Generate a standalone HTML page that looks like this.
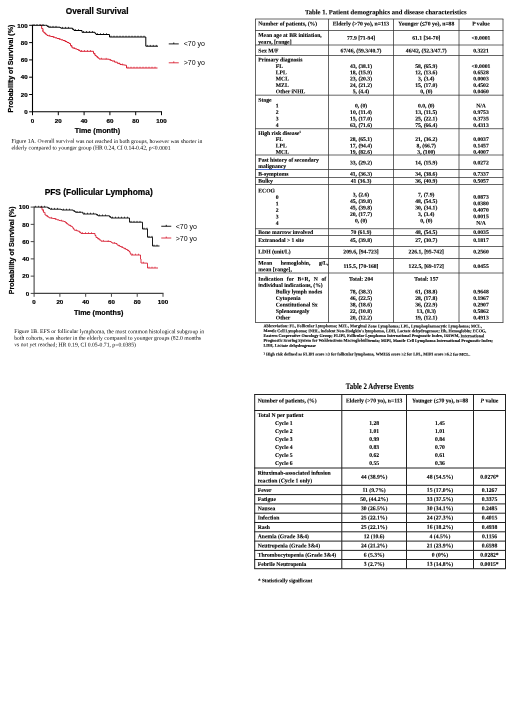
<!DOCTYPE html>
<html lang="en"><head><meta charset="utf-8"><title>Figure and tables</title>
<style>
html,body{margin:0;padding:0;background:#fff;}
body{width:520px;height:703px;position:relative;overflow:hidden;font-family:"Liberation Serif",serif;color:#000;}
.a{position:absolute;white-space:nowrap;}
.sb{font-family:"Liberation Serif",serif;font-weight:bold;-webkit-text-stroke:0.1px #000;}
.sr{font-family:"Liberation Serif",serif;font-weight:normal;}
.c{text-align:center;}
.ln{position:absolute;background:#222;}
svg{position:absolute;left:0;top:0;}
svg text{font-family:"Liberation Sans",sans-serif;}
svg text[font-weight=bold]{stroke:#000;stroke-width:0.2px;}
</style></head>
<body>
<svg width="250" height="360" viewBox="0 0 250 360">
<path d="M32.50,24.80 V112.30 M32.00,111.80 H162.00" stroke="#000" stroke-width="1.1" fill="none"/>
<path d="M29.10,25.30 H32.50 M32.50,111.80 V115.20 M29.10,42.60 H32.50 M58.30,111.80 V115.20 M29.10,59.90 H32.50 M84.10,111.80 V115.20 M29.10,77.20 H32.50 M109.90,111.80 V115.20 M29.10,94.50 H32.50 M135.70,111.80 V115.20 M29.10,111.80 H32.50 M161.50,111.80 V115.20" stroke="#000" stroke-width="0.99" fill="none"/>
<text x="27.60" y="27.53" font-size="6.2" font-weight="bold" text-anchor="end">100</text>
<text x="27.60" y="44.83" font-size="6.2" font-weight="bold" text-anchor="end">80</text>
<text x="27.60" y="62.13" font-size="6.2" font-weight="bold" text-anchor="end">60</text>
<text x="27.60" y="79.43" font-size="6.2" font-weight="bold" text-anchor="end">40</text>
<text x="27.60" y="96.73" font-size="6.2" font-weight="bold" text-anchor="end">20</text>
<text x="27.60" y="114.03" font-size="6.2" font-weight="bold" text-anchor="end">0</text>
<text x="32.50" y="122.83" font-size="6.2" font-weight="bold" text-anchor="middle">0</text>
<text x="58.30" y="122.83" font-size="6.2" font-weight="bold" text-anchor="middle">20</text>
<text x="84.10" y="122.83" font-size="6.2" font-weight="bold" text-anchor="middle">40</text>
<text x="109.90" y="122.83" font-size="6.2" font-weight="bold" text-anchor="middle">60</text>
<text x="135.70" y="122.83" font-size="6.2" font-weight="bold" text-anchor="middle">80</text>
<text x="161.50" y="122.83" font-size="6.2" font-weight="bold" text-anchor="middle">100</text>
<text x="97.10" y="14.29" font-size="8.3" font-weight="bold" text-anchor="middle">Overall Survival</text>
<text x="97.40" y="133.49" font-size="7.2" font-weight="bold" text-anchor="middle">Time (month)</text>
<text transform="translate(12.56,68.55) rotate(-90)" font-size="7.1" font-weight="bold" text-anchor="middle">Probability of Survival (%)</text>
<path d="M40.00,25.30 L40.30,25.30 L41.65,25.30 L41.65,28.65 L43.00,28.65 L43.00,32.00 L44.33,32.00 L44.33,33.17 L45.67,33.17 L45.67,34.33 L47.00,34.33 L47.00,35.50 L48.33,35.50 L48.33,35.83 L49.67,35.83 L49.67,36.17 L51.00,36.17 L51.00,36.50 L53.00,36.50 L53.00,37.17 L55.00,37.17 L55.00,37.83 L57.00,37.83 L57.00,38.50 L59.00,38.50 L59.00,39.17 L61.00,39.17 L61.00,39.83 L63.00,39.83 L63.00,40.50 L65.00,40.50 L65.00,41.50 L67.00,41.50 L67.00,42.50 L69.00,42.50 L69.00,43.50 L70.50,43.50 L70.50,45.65 L72.00,45.65 L72.00,47.80 L73.67,47.80 L73.67,48.37 L75.33,48.37 L75.33,48.93 L77.00,48.93 L77.00,49.50 L78.50,49.50 L78.50,50.40 L80.00,50.40 L80.00,51.30 L92.00,51.30 L93.50,51.30 L93.50,53.40 L95.00,53.40 L95.00,55.50 L96.33,55.50 L96.33,56.67 L97.67,56.67 L97.67,57.83 L99.00,57.83 L99.00,59.00 L102.00,59.00 L102.00,59.07 L105.00,59.07 L105.00,59.13 L108.00,59.13 L108.00,59.20 L109.33,59.20 L109.33,59.80 L110.67,59.80 L110.67,60.40 L112.00,60.40 L112.00,61.00 L114.67,61.00 L114.67,62.17 L117.33,62.17 L117.33,63.33 L120.00,63.33 L120.00,64.50 L121.83,64.50 L121.83,64.77 L123.67,64.77 L123.67,65.03 L125.50,65.03 L125.50,65.30 L126.50,65.30 L126.50,68.00 L157.50,68.00" stroke="#da2032" stroke-width="1.0" fill="none" stroke-linejoin="miter"/>
<path d="M42.70,31.26v-1.3M45.40,34.10v-1.3M49.40,36.10v-1.3M53.40,37.30v-1.3M59.40,39.30v-1.3M65.40,41.70v-1.3M71.40,46.94v-1.3M74.40,48.62v-1.3M79.40,50.94v-1.3M81.50,51.30v-1.3M84.50,51.30v-1.3M87.50,51.30v-1.3M90.50,51.30v-1.3M94.40,54.66v-1.3M97.40,57.60v-1.3M101.40,59.05v-1.3M106.20,59.16v-1.3M110.40,60.28v-1.3M114.40,62.05v-1.3M119.20,64.15v-1.3M122.40,64.85v-1.3M128.00,68.00v-1.3M131.00,68.00v-1.3M134.00,68.00v-1.3M137.00,68.00v-1.3M140.00,68.00v-1.3M143.00,68.00v-1.3M146.00,68.00v-1.3M149.00,68.00v-1.3M152.00,68.00v-1.3M155.00,68.00v-1.3" stroke="#da2032" stroke-width="0.7" fill="none"/>
<path d="M32.50,25.30 L45.50,25.30 L47.00,25.30 L47.00,26.25 L48.50,26.25 L48.50,27.20 L59.00,27.20 L60.00,27.20 L60.00,27.70 L61.00,27.70 L61.00,28.20 L71.00,28.20 L72.50,28.20 L72.50,29.35 L74.00,29.35 L74.00,30.50 L81.00,30.50 L82.00,30.50 L82.00,32.30 L94.00,32.30 L95.00,32.30 L95.00,33.40 L96.00,33.40 L96.00,34.50 L108.00,34.50 L109.50,34.50 L109.50,37.00 L145.80,37.00 L145.80,46.20 L158.00,46.20" stroke="#000" stroke-width="1.0" fill="none" stroke-linejoin="miter"/>
<path d="M34.00,25.30v-1.3M37.00,25.30v-1.3M40.00,25.30v-1.3M43.00,25.30v-1.3M47.90,26.82v-1.3M50.00,27.20v-1.3M53.00,27.20v-1.3M56.00,27.20v-1.3M62.50,28.20v-1.3M65.50,28.20v-1.3M68.50,28.20v-1.3M73.40,30.04v-1.3M75.50,30.50v-1.3M78.50,30.50v-1.3M83.50,32.30v-1.3M86.50,32.30v-1.3M89.50,32.30v-1.3M92.50,32.30v-1.3M97.50,34.50v-1.3M100.50,34.50v-1.3M103.50,34.50v-1.3M106.50,34.50v-1.3M111.00,37.00v-1.3M114.00,37.00v-1.3M117.00,37.00v-1.3M120.00,37.00v-1.3M123.00,37.00v-1.3M126.00,37.00v-1.3M129.00,37.00v-1.3M132.00,37.00v-1.3M135.00,37.00v-1.3M138.00,37.00v-1.3M141.00,37.00v-1.3M144.00,37.00v-1.3M147.30,46.20v-1.3M150.30,46.20v-1.3M153.30,46.20v-1.3M156.30,46.20v-1.3" stroke="#000" stroke-width="0.7" fill="none"/>
<path d="M168.75,43.90 H178.75 M173.75,43.90 v-1.4" stroke="#000" stroke-width="0.9" fill="none"/>
<text x="183.75" y="45.92" font-size="7.0">&lt;70 yo</text>
<path d="M168.75,62.80 H178.75 M173.75,62.80 v-1.4" stroke="#da2032" stroke-width="0.9" fill="none"/>
<text x="183.75" y="64.82" font-size="7.0">&gt;70 yo</text>
<path d="M34.10,206.60 V293.90 M33.60,293.40 H163.50" stroke="#444" stroke-width="1.1" fill="none"/>
<path d="M30.70,207.10 H34.10 M34.10,293.40 V296.80 M30.70,224.36 H34.10 M59.88,293.40 V296.80 M30.70,241.62 H34.10 M85.66,293.40 V296.80 M30.70,258.88 H34.10 M111.44,293.40 V296.80 M30.70,276.14 H34.10 M137.22,293.40 V296.80 M30.70,293.40 H34.10 M163.00,293.40 V296.80" stroke="#444" stroke-width="0.99" fill="none"/>
<text x="29.20" y="209.33" font-size="6.2" font-weight="bold" text-anchor="end">100</text>
<text x="29.20" y="226.59" font-size="6.2" font-weight="bold" text-anchor="end">80</text>
<text x="29.20" y="243.85" font-size="6.2" font-weight="bold" text-anchor="end">60</text>
<text x="29.20" y="261.11" font-size="6.2" font-weight="bold" text-anchor="end">40</text>
<text x="29.20" y="278.37" font-size="6.2" font-weight="bold" text-anchor="end">20</text>
<text x="29.20" y="295.63" font-size="6.2" font-weight="bold" text-anchor="end">0</text>
<text x="34.10" y="303.63" font-size="6.2" font-weight="bold" text-anchor="middle">0</text>
<text x="59.88" y="303.63" font-size="6.2" font-weight="bold" text-anchor="middle">20</text>
<text x="85.66" y="303.63" font-size="6.2" font-weight="bold" text-anchor="middle">40</text>
<text x="111.44" y="303.63" font-size="6.2" font-weight="bold" text-anchor="middle">60</text>
<text x="137.22" y="303.63" font-size="6.2" font-weight="bold" text-anchor="middle">80</text>
<text x="163.00" y="303.63" font-size="6.2" font-weight="bold" text-anchor="middle">100</text>
<text x="98.70" y="194.92" font-size="8.4" font-weight="bold" text-anchor="middle">PFS (Follicular Lymphoma)</text>
<text x="98.60" y="314.99" font-size="7.2" font-weight="bold" text-anchor="middle">Time (months)</text>
<text transform="translate(13.76,250.25) rotate(-90)" font-size="7.1" font-weight="bold" text-anchor="middle">Probability of Survival (%)</text>
<path d="M40.00,207.10 L40.50,207.10 L42.00,207.10 L42.00,209.73 L43.50,209.73 L43.50,212.37 L45.00,212.37 L45.00,215.00 L46.33,215.00 L46.33,215.93 L47.67,215.93 L47.67,216.87 L49.00,216.87 L49.00,217.80 L50.33,217.80 L50.33,218.03 L51.67,218.03 L51.67,218.27 L53.00,218.27 L53.00,218.50 L55.00,218.50 L55.00,219.17 L57.00,219.17 L57.00,219.83 L59.00,219.83 L59.00,220.50 L60.67,220.50 L60.67,220.83 L62.33,220.83 L62.33,221.17 L64.00,221.17 L64.00,221.50 L65.33,221.50 L65.33,222.60 L66.67,222.60 L66.67,223.70 L68.00,223.70 L68.00,224.80 L69.33,224.80 L69.33,225.53 L70.67,225.53 L70.67,226.27 L72.00,226.27 L72.00,227.00 L73.00,227.00 L73.00,228.50 L74.00,228.50 L74.00,230.00 L75.33,230.00 L75.33,230.40 L76.67,230.40 L76.67,230.80 L78.00,230.80 L78.00,231.20 L79.50,231.20 L79.50,232.35 L81.00,232.35 L81.00,233.50 L94.00,233.50 L95.00,233.50 L95.00,235.50 L96.00,235.50 L96.00,237.50 L97.67,237.50 L97.67,238.73 L99.33,238.73 L99.33,239.97 L101.00,239.97 L101.00,241.20 L104.00,241.20 L104.00,241.30 L107.00,241.30 L107.00,241.40 L110.00,241.40 L110.00,241.50 L111.00,241.50 L111.00,242.25 L112.00,242.25 L112.00,243.00 L113.33,243.00 L113.33,243.17 L114.67,243.17 L114.67,243.33 L116.00,243.33 L116.00,243.50 L117.00,243.50 L117.00,245.00 L118.50,245.00 L118.50,245.75 L120.00,245.75 L120.00,246.50 L121.50,246.50 L121.50,247.25 L123.00,247.25 L123.00,248.00 L124.50,248.00 L124.50,248.75 L126.00,248.75 L126.00,249.50 L127.50,249.50 L127.50,250.50 L129.00,250.50 L129.00,251.50 L130.00,251.50 L130.00,253.25 L131.00,253.25 L131.00,255.00 L139.00,255.00 L140.50,255.00 L140.50,259.00 L141.00,259.00 L141.00,263.00 L143.00,263.00 L143.00,263.07 L145.00,263.07 L145.00,263.13 L147.00,263.13 L147.00,263.20 L147.50,263.20 L147.50,268.00 L158.00,268.00" stroke="#d82034" stroke-width="0.9" fill="none" stroke-linejoin="miter"/>
<path d="M42.90,211.31v-1.3M47.40,216.68v-1.3M51.40,218.22v-1.3M55.40,219.30v-1.3M61.40,220.98v-1.3M66.40,223.48v-1.3M70.40,226.12v-1.3M76.40,230.72v-1.3M80.40,233.04v-1.3M82.50,233.50v-1.3M85.50,233.50v-1.3M88.50,233.50v-1.3M91.50,233.50v-1.3M98.40,239.28v-1.3M103.40,241.28v-1.3M108.20,241.44v-1.3M114.40,243.30v-1.3M119.40,246.20v-1.3M122.40,247.70v-1.3M125.40,249.20v-1.3M128.40,251.10v-1.3M132.50,255.00v-1.3M135.50,255.00v-1.3M138.50,255.00v-1.3M143.40,263.08v-1.3M149.00,268.00v-1.3M152.00,268.00v-1.3M155.00,268.00v-1.3" stroke="#d82034" stroke-width="0.7" fill="none"/>
<path d="M34.10,207.10 L46.50,207.10 L47.67,207.10 L47.67,207.80 L48.83,207.80 L48.83,208.50 L50.00,208.50 L50.00,209.20 L60.00,209.20 L61.00,209.20 L61.00,209.60 L62.00,209.60 L62.00,210.00 L72.00,210.00 L73.17,210.00 L73.17,210.77 L74.33,210.77 L74.33,211.53 L75.50,211.53 L75.50,212.30 L81.50,212.30 L83.00,212.30 L83.00,214.00 L95.00,214.00 L96.50,214.00 L96.50,214.90 L98.00,214.90 L98.00,215.80 L108.00,215.80 L109.50,215.80 L109.50,216.90 L111.00,216.90 L111.00,218.00 L129.00,218.00 L129.50,218.00 L129.50,222.20 L142.00,222.20 L142.50,222.20 L142.50,229.00 L147.50,229.00 L147.50,237.20 L152.50,237.20 L152.50,246.00 L159.50,246.00" stroke="#000" stroke-width="0.9" fill="none" stroke-linejoin="miter"/>
<path d="M35.60,207.10v-1.3M38.60,207.10v-1.3M41.60,207.10v-1.3M44.60,207.10v-1.3M48.90,208.54v-1.3M51.50,209.20v-1.3M54.50,209.20v-1.3M57.50,209.20v-1.3M63.50,210.00v-1.3M66.50,210.00v-1.3M69.50,210.00v-1.3M74.40,211.58v-1.3M77.00,212.30v-1.3M80.00,212.30v-1.3M84.50,214.00v-1.3M87.50,214.00v-1.3M90.50,214.00v-1.3M93.50,214.00v-1.3M97.40,215.44v-1.3M99.50,215.80v-1.3M102.50,215.80v-1.3M105.50,215.80v-1.3M110.40,217.56v-1.3M112.50,218.00v-1.3M115.50,218.00v-1.3M118.50,218.00v-1.3M121.50,218.00v-1.3M124.50,218.00v-1.3M127.50,218.00v-1.3M131.00,222.20v-1.3M134.00,222.20v-1.3M137.00,222.20v-1.3M140.00,222.20v-1.3M144.00,229.00v-1.3M147.00,229.00v-1.3M149.00,237.20v-1.3M152.00,237.20v-1.3M154.00,246.00v-1.3M157.00,246.00v-1.3" stroke="#000" stroke-width="0.7" fill="none"/>
<path d="M161.25,226.25 H171.25 M166.25,226.25 v-1.4" stroke="#000" stroke-width="0.9" fill="none"/>
<text x="175.75" y="228.77" font-size="7.0">&lt;70 yo</text>
<path d="M161.25,238.00 H171.25 M166.25,238.00 v-1.4" stroke="#d82034" stroke-width="0.9" fill="none"/>
<text x="175.75" y="240.52" font-size="7.0">&gt;70 yo</text>
</svg>
<svg width="520" height="703" viewBox="0 0 520 703"><path d="M255.12,19.00H503.38M255.12,30.50H503.38M255.12,45.00H503.38M255.12,55.50H503.38M255.12,95.20H503.38M255.12,128.70H503.38M255.12,155.00H503.38M255.12,169.50H503.38M255.12,177.50H503.38M255.12,184.50H503.38M255.12,228.70H503.38M255.12,235.50H503.38M255.12,246.50H503.38M255.12,258.50H503.38M255.12,273.00H503.38M255.12,322.50H503.38M255.50,19.00V322.50M328.50,19.00V322.50M393.50,19.00V322.50M459.00,19.00V322.50M503.00,19.00V322.50" stroke="#333" stroke-width="0.75" fill="none"/><path d="M254.20,394.50H506.00M254.20,410.50H506.00M254.20,468.00H506.00M254.20,485.30H506.00M254.20,494.60H506.00M254.20,503.90H506.00M254.20,513.20H506.00M254.20,522.50H506.00M254.20,531.80H506.00M254.20,541.10H506.00M254.20,550.40H506.00M254.20,559.50H506.00M254.20,568.70H506.00M254.70,394.50V568.70M341.80,394.50V568.70M406.50,394.50V568.70M473.50,394.50V568.70M505.50,394.50V568.70" stroke="#222" stroke-width="1.0" fill="none"/></svg>
<div class="a sr" style="left:11px;top:137px;font-size:5.7px;line-height:7px;transform:translate(0.40px,0.89px) rotate(0.03deg);">Figure 1A. Overall survival was not reached in both groups, however was shorter in</div>
<div class="a sr" style="left:11px;top:144px;font-size:5.7px;line-height:7px;transform:translate(0.40px,0.59px) rotate(0.03deg);">elderly compared to younger group (HR 0.24, CI 0.14-0.42, p&lt;0.0001</div>
<div class="a sr" style="left:14px;top:328px;font-size:5.7px;line-height:7px;transform:translate(0.25px,0.14px) rotate(0.03deg);">Figure 1B. EFS or follicular lymphoma, the most common histological subgroup in</div>
<div class="a sr" style="left:14px;top:334px;font-size:5.7px;line-height:7px;transform:translate(0.25px,0.79px) rotate(0.03deg);">both cohorts, was shorter in the elderly compared to younger groups (82.0 months</div>
<div class="a sr" style="left:14px;top:341px;font-size:5.7px;line-height:7px;transform:translate(0.25px,0.39px) rotate(0.03deg);">vs not yet reached; HR 0.19, CI 0.05-0.71, p=0.0385)</div>
<div class="a sb" style="left:305px;top:8px;font-size:6.6px;line-height:8px;transform:translate(0.00px,0.22px) rotate(0.03deg);">Table 1. Patient demographics and disease characteristics</div>
<div class="a sb" style="left:258px;top:20px;font-size:5.65px;line-height:7px;transform:translate(0.30px,0.39px) rotate(0.03deg);">Number of patients, (%)</div>
<div class="a sb c" style="left:328px;top:20px;font-size:5.65px;line-height:7px;width:65.00px;transform:translate(0.50px,0.39px) rotate(0.03deg);">Elderly (&gt;70 yo), n=113</div>
<div class="a sb c" style="left:393px;top:20px;font-size:5.65px;line-height:7px;width:65.50px;transform:translate(0.50px,0.39px) rotate(0.03deg);">Younger (≤70 yo), n=88</div>
<div class="a sb c" style="left:459px;top:20px;font-size:5.65px;line-height:7px;width:44.00px;transform:translate(0.00px,0.39px) rotate(0.03deg);">P value</div>
<div class="a sb" style="left:258px;top:31px;font-size:5.65px;line-height:7px;transform:translate(0.30px,0.89px) rotate(0.03deg);">Mean age at BR initiation,</div>
<div class="a sb" style="left:258px;top:38px;font-size:5.65px;line-height:7px;transform:translate(0.30px,0.64px) rotate(0.03deg);">years, [range]</div>
<div class="a sb c" style="left:328px;top:34px;font-size:5.65px;line-height:7px;width:65.00px;transform:translate(0.50px,0.79px) rotate(0.03deg);">77.9 [71-94]</div>
<div class="a sb c" style="left:393px;top:34px;font-size:5.65px;line-height:7px;width:65.50px;transform:translate(0.50px,0.79px) rotate(0.03deg);">61.1 [34-70]</div>
<div class="a sb c" style="left:459px;top:34px;font-size:5.65px;line-height:7px;width:44.00px;transform:translate(0.00px,0.79px) rotate(0.03deg);">&lt;0.0001</div>
<div class="a sb" style="left:258px;top:47px;font-size:5.65px;line-height:7px;transform:translate(0.30px,0.39px) rotate(0.03deg);">Sex M/F</div>
<div class="a sb c" style="left:328px;top:47px;font-size:5.65px;line-height:7px;width:65.00px;transform:translate(0.50px,0.39px) rotate(0.03deg);">67/46, (59.3/40.7)</div>
<div class="a sb c" style="left:393px;top:47px;font-size:5.65px;line-height:7px;width:65.50px;transform:translate(0.50px,0.39px) rotate(0.03deg);">46/42, (52.3/47.7)</div>
<div class="a sb c" style="left:459px;top:47px;font-size:5.65px;line-height:7px;width:44.00px;transform:translate(0.00px,0.39px) rotate(0.03deg);">0.3221</div>
<div class="a sb" style="left:258px;top:56px;font-size:5.65px;line-height:7px;transform:translate(0.30px,0.39px) rotate(0.03deg);">Primary diagnosis</div>
<div class="a sb" style="left:275px;top:62px;font-size:5.65px;line-height:7px;transform:translate(0.80px,0.89px) rotate(0.03deg);">FL</div>
<div class="a sb" style="left:275px;top:69px;font-size:5.65px;line-height:7px;transform:translate(0.80px,0.14px) rotate(0.03deg);">LPL</div>
<div class="a sb" style="left:275px;top:75px;font-size:5.65px;line-height:7px;transform:translate(0.80px,0.49px) rotate(0.03deg);">MCL</div>
<div class="a sb" style="left:275px;top:81px;font-size:5.65px;line-height:7px;transform:translate(0.80px,0.89px) rotate(0.03deg);">MZL</div>
<div class="a sb" style="left:275px;top:88px;font-size:5.65px;line-height:7px;transform:translate(0.80px,0.29px) rotate(0.03deg);">Other iNHL</div>
<div class="a sb c" style="left:328px;top:62px;font-size:5.65px;line-height:7px;width:65.00px;transform:translate(0.50px,0.89px) rotate(0.03deg);">43, (38.1)</div>
<div class="a sb c" style="left:328px;top:69px;font-size:5.65px;line-height:7px;width:65.00px;transform:translate(0.50px,0.14px) rotate(0.03deg);">18, (15.9)</div>
<div class="a sb c" style="left:328px;top:75px;font-size:5.65px;line-height:7px;width:65.00px;transform:translate(0.50px,0.49px) rotate(0.03deg);">23, (20.3)</div>
<div class="a sb c" style="left:328px;top:81px;font-size:5.65px;line-height:7px;width:65.00px;transform:translate(0.50px,0.89px) rotate(0.03deg);">24, (21.2)</div>
<div class="a sb c" style="left:328px;top:88px;font-size:5.65px;line-height:7px;width:65.00px;transform:translate(0.50px,0.29px) rotate(0.03deg);">5, (4.4)</div>
<div class="a sb c" style="left:393px;top:62px;font-size:5.65px;line-height:7px;width:65.50px;transform:translate(0.50px,0.89px) rotate(0.03deg);">58, (65.9)</div>
<div class="a sb c" style="left:393px;top:69px;font-size:5.65px;line-height:7px;width:65.50px;transform:translate(0.50px,0.14px) rotate(0.03deg);">12, (13.6)</div>
<div class="a sb c" style="left:393px;top:75px;font-size:5.65px;line-height:7px;width:65.50px;transform:translate(0.50px,0.49px) rotate(0.03deg);">3, (3.4)</div>
<div class="a sb c" style="left:393px;top:81px;font-size:5.65px;line-height:7px;width:65.50px;transform:translate(0.50px,0.89px) rotate(0.03deg);">15, (17.0)</div>
<div class="a sb c" style="left:393px;top:88px;font-size:5.65px;line-height:7px;width:65.50px;transform:translate(0.50px,0.29px) rotate(0.03deg);">0, (0)</div>
<div class="a sb c" style="left:459px;top:62px;font-size:5.65px;line-height:7px;width:44.00px;transform:translate(0.00px,0.89px) rotate(0.03deg);">&lt;0.0001</div>
<div class="a sb c" style="left:459px;top:69px;font-size:5.65px;line-height:7px;width:44.00px;transform:translate(0.00px,0.14px) rotate(0.03deg);">0.6528</div>
<div class="a sb c" style="left:459px;top:75px;font-size:5.65px;line-height:7px;width:44.00px;transform:translate(0.00px,0.49px) rotate(0.03deg);">0.0003</div>
<div class="a sb c" style="left:459px;top:81px;font-size:5.65px;line-height:7px;width:44.00px;transform:translate(0.00px,0.89px) rotate(0.03deg);">0.4502</div>
<div class="a sb c" style="left:459px;top:88px;font-size:5.65px;line-height:7px;width:44.00px;transform:translate(0.00px,0.29px) rotate(0.03deg);">0.0460</div>
<div class="a sb" style="left:258px;top:96px;font-size:5.65px;line-height:7px;transform:translate(0.30px,0.69px) rotate(0.03deg);">Stage</div>
<div class="a sb" style="left:275px;top:102px;font-size:5.65px;line-height:7px;transform:translate(0.80px,0.39px) rotate(0.03deg);">1</div>
<div class="a sb" style="left:275px;top:108px;font-size:5.65px;line-height:7px;transform:translate(0.80px,0.89px) rotate(0.03deg);">2</div>
<div class="a sb" style="left:275px;top:115px;font-size:5.65px;line-height:7px;transform:translate(0.80px,0.39px) rotate(0.03deg);">3</div>
<div class="a sb" style="left:275px;top:121px;font-size:5.65px;line-height:7px;transform:translate(0.80px,0.89px) rotate(0.03deg);">4</div>
<div class="a sb c" style="left:328px;top:102px;font-size:5.65px;line-height:7px;width:65.00px;transform:translate(0.50px,0.39px) rotate(0.03deg);">0, (0)</div>
<div class="a sb c" style="left:328px;top:108px;font-size:5.65px;line-height:7px;width:65.00px;transform:translate(0.50px,0.89px) rotate(0.03deg);">10, (11.4)</div>
<div class="a sb c" style="left:328px;top:115px;font-size:5.65px;line-height:7px;width:65.00px;transform:translate(0.50px,0.39px) rotate(0.03deg);">15, (17.0)</div>
<div class="a sb c" style="left:328px;top:121px;font-size:5.65px;line-height:7px;width:65.00px;transform:translate(0.50px,0.89px) rotate(0.03deg);">63, (71.6)</div>
<div class="a sb c" style="left:393px;top:102px;font-size:5.65px;line-height:7px;width:65.50px;transform:translate(0.50px,0.39px) rotate(0.03deg);">0.0, (0)</div>
<div class="a sb c" style="left:393px;top:108px;font-size:5.65px;line-height:7px;width:65.50px;transform:translate(0.50px,0.89px) rotate(0.03deg);">13, (11.5)</div>
<div class="a sb c" style="left:393px;top:115px;font-size:5.65px;line-height:7px;width:65.50px;transform:translate(0.50px,0.39px) rotate(0.03deg);">25, (22.1)</div>
<div class="a sb c" style="left:393px;top:121px;font-size:5.65px;line-height:7px;width:65.50px;transform:translate(0.50px,0.89px) rotate(0.03deg);">75, (66.4)</div>
<div class="a sb c" style="left:459px;top:102px;font-size:5.65px;line-height:7px;width:44.00px;transform:translate(0.00px,0.39px) rotate(0.03deg);">N/A</div>
<div class="a sb c" style="left:459px;top:108px;font-size:5.65px;line-height:7px;width:44.00px;transform:translate(0.00px,0.89px) rotate(0.03deg);">0.9753</div>
<div class="a sb c" style="left:459px;top:115px;font-size:5.65px;line-height:7px;width:44.00px;transform:translate(0.00px,0.39px) rotate(0.03deg);">0.3735</div>
<div class="a sb c" style="left:459px;top:121px;font-size:5.65px;line-height:7px;width:44.00px;transform:translate(0.00px,0.89px) rotate(0.03deg);">0.4313</div>
<div class="a sb" style="left:258px;top:129px;font-size:5.65px;line-height:7px;transform:translate(0.30px,0.89px) rotate(0.03deg);">High risk disease<span style="font-size:3.4px;position:relative;top:-2px;line-height:0">1</span></div>
<div class="a sb" style="left:275px;top:135px;font-size:5.65px;line-height:7px;transform:translate(0.80px,0.99px) rotate(0.03deg);">FL</div>
<div class="a sb" style="left:275px;top:142px;font-size:5.65px;line-height:7px;transform:translate(0.80px,0.39px) rotate(0.03deg);">LPL</div>
<div class="a sb" style="left:275px;top:148px;font-size:5.65px;line-height:7px;transform:translate(0.80px,0.69px) rotate(0.03deg);">MCL</div>
<div class="a sb c" style="left:328px;top:135px;font-size:5.65px;line-height:7px;width:65.00px;transform:translate(0.50px,0.99px) rotate(0.03deg);">28, (65.1)</div>
<div class="a sb c" style="left:328px;top:142px;font-size:5.65px;line-height:7px;width:65.00px;transform:translate(0.50px,0.39px) rotate(0.03deg);">17, (94.4)</div>
<div class="a sb c" style="left:328px;top:148px;font-size:5.65px;line-height:7px;width:65.00px;transform:translate(0.50px,0.69px) rotate(0.03deg);">19, (82.6)</div>
<div class="a sb c" style="left:393px;top:135px;font-size:5.65px;line-height:7px;width:65.50px;transform:translate(0.50px,0.99px) rotate(0.03deg);">21, (36.2)</div>
<div class="a sb c" style="left:393px;top:142px;font-size:5.65px;line-height:7px;width:65.50px;transform:translate(0.50px,0.39px) rotate(0.03deg);">8, (66.7)</div>
<div class="a sb c" style="left:393px;top:148px;font-size:5.65px;line-height:7px;width:65.50px;transform:translate(0.50px,0.69px) rotate(0.03deg);">3, (100)</div>
<div class="a sb c" style="left:459px;top:135px;font-size:5.65px;line-height:7px;width:44.00px;transform:translate(0.00px,0.99px) rotate(0.03deg);">0.0037</div>
<div class="a sb c" style="left:459px;top:142px;font-size:5.65px;line-height:7px;width:44.00px;transform:translate(0.00px,0.39px) rotate(0.03deg);">0.1457</div>
<div class="a sb c" style="left:459px;top:148px;font-size:5.65px;line-height:7px;width:44.00px;transform:translate(0.00px,0.69px) rotate(0.03deg);">0.4007</div>
<div class="a sb" style="left:258px;top:156px;font-size:5.65px;line-height:7px;transform:translate(0.30px,0.69px) rotate(0.03deg);">Past history of secondary</div>
<div class="a sb" style="left:258px;top:163px;font-size:5.65px;line-height:7px;transform:translate(0.30px,0.09px) rotate(0.03deg);"><span style="text-decoration:underline #4a6fd0 0.4px;text-underline-offset:0.6px">malignancy</span></div>
<div class="a sb c" style="left:328px;top:159px;font-size:5.65px;line-height:7px;width:65.00px;transform:translate(0.50px,0.39px) rotate(0.03deg);">33, (29.2)</div>
<div class="a sb c" style="left:393px;top:159px;font-size:5.65px;line-height:7px;width:65.50px;transform:translate(0.50px,0.39px) rotate(0.03deg);">14, (15.9)</div>
<div class="a sb c" style="left:459px;top:159px;font-size:5.65px;line-height:7px;width:44.00px;transform:translate(0.00px,0.39px) rotate(0.03deg);">0.0272</div>
<div class="a sb" style="left:258px;top:170px;font-size:5.65px;line-height:7px;transform:translate(0.30px,0.69px) rotate(0.03deg);">B-symptoms</div>
<div class="a sb c" style="left:328px;top:170px;font-size:5.65px;line-height:7px;width:65.00px;transform:translate(0.50px,0.69px) rotate(0.03deg);">41, (36.3)</div>
<div class="a sb c" style="left:393px;top:170px;font-size:5.65px;line-height:7px;width:65.50px;transform:translate(0.50px,0.69px) rotate(0.03deg);">34, (38.6)</div>
<div class="a sb c" style="left:459px;top:170px;font-size:5.65px;line-height:7px;width:44.00px;transform:translate(0.00px,0.69px) rotate(0.03deg);">0.7337</div>
<div class="a sb" style="left:258px;top:177px;font-size:5.65px;line-height:7px;transform:translate(0.30px,0.79px) rotate(0.03deg);">Bulky</div>
<div class="a sb c" style="left:328px;top:177px;font-size:5.65px;line-height:7px;width:65.00px;transform:translate(0.50px,0.79px) rotate(0.03deg);">41 (36.3)</div>
<div class="a sb c" style="left:393px;top:177px;font-size:5.65px;line-height:7px;width:65.50px;transform:translate(0.50px,0.79px) rotate(0.03deg);">36, (40.9)</div>
<div class="a sb c" style="left:459px;top:177px;font-size:5.65px;line-height:7px;width:44.00px;transform:translate(0.00px,0.79px) rotate(0.03deg);">0.5057</div>
<div class="a sb" style="left:258px;top:187px;font-size:5.65px;line-height:7px;transform:translate(0.30px,0.39px) rotate(0.03deg);">ECOG</div>
<div class="a sb" style="left:275px;top:193px;font-size:5.65px;line-height:7px;transform:translate(0.80px,0.89px) rotate(0.03deg);">0</div>
<div class="a sb" style="left:275px;top:200px;font-size:5.65px;line-height:7px;transform:translate(0.80px,0.39px) rotate(0.03deg);">1</div>
<div class="a sb" style="left:275px;top:206px;font-size:5.65px;line-height:7px;transform:translate(0.80px,0.89px) rotate(0.03deg);">2</div>
<div class="a sb" style="left:275px;top:213px;font-size:5.65px;line-height:7px;transform:translate(0.80px,0.39px) rotate(0.03deg);">3</div>
<div class="a sb" style="left:275px;top:219px;font-size:5.65px;line-height:7px;transform:translate(0.80px,0.89px) rotate(0.03deg);">4</div>
<div class="a sb c" style="left:328px;top:191px;font-size:5.65px;line-height:7px;width:65.00px;transform:translate(0.50px,0.39px) rotate(0.03deg);">3, (2.6)</div>
<div class="a sb c" style="left:328px;top:197px;font-size:5.65px;line-height:7px;width:65.00px;transform:translate(0.50px,0.89px) rotate(0.03deg);">45, (39.8)</div>
<div class="a sb c" style="left:328px;top:204px;font-size:5.65px;line-height:7px;width:65.00px;transform:translate(0.50px,0.39px) rotate(0.03deg);">45, (39.8)</div>
<div class="a sb c" style="left:328px;top:210px;font-size:5.65px;line-height:7px;width:65.00px;transform:translate(0.50px,0.89px) rotate(0.03deg);">20, (17.7)</div>
<div class="a sb c" style="left:328px;top:217px;font-size:5.65px;line-height:7px;width:65.00px;transform:translate(0.50px,0.39px) rotate(0.03deg);">0, (0)</div>
<div class="a sb c" style="left:393px;top:191px;font-size:5.65px;line-height:7px;width:65.50px;transform:translate(0.50px,0.39px) rotate(0.03deg);">7, (7.9)</div>
<div class="a sb c" style="left:393px;top:197px;font-size:5.65px;line-height:7px;width:65.50px;transform:translate(0.50px,0.89px) rotate(0.03deg);">48, (54.5)</div>
<div class="a sb c" style="left:393px;top:204px;font-size:5.65px;line-height:7px;width:65.50px;transform:translate(0.50px,0.39px) rotate(0.03deg);">30, (34.1)</div>
<div class="a sb c" style="left:393px;top:210px;font-size:5.65px;line-height:7px;width:65.50px;transform:translate(0.50px,0.89px) rotate(0.03deg);">3, (3.4)</div>
<div class="a sb c" style="left:393px;top:217px;font-size:5.65px;line-height:7px;width:65.50px;transform:translate(0.50px,0.39px) rotate(0.03deg);">0, (0)</div>
<div class="a sb c" style="left:459px;top:193px;font-size:5.65px;line-height:7px;width:44.00px;transform:translate(0.00px,0.69px) rotate(0.03deg);">0.0873</div>
<div class="a sb c" style="left:459px;top:200px;font-size:5.65px;line-height:7px;width:44.00px;transform:translate(0.00px,0.19px) rotate(0.03deg);">0.0380</div>
<div class="a sb c" style="left:459px;top:206px;font-size:5.65px;line-height:7px;width:44.00px;transform:translate(0.00px,0.69px) rotate(0.03deg);">0.4070</div>
<div class="a sb c" style="left:459px;top:213px;font-size:5.65px;line-height:7px;width:44.00px;transform:translate(0.00px,0.19px) rotate(0.03deg);">0.0015</div>
<div class="a sb c" style="left:459px;top:219px;font-size:5.65px;line-height:7px;width:44.00px;transform:translate(0.00px,0.69px) rotate(0.03deg);">N/A</div>
<div class="a sb" style="left:258px;top:229px;font-size:5.65px;line-height:7px;transform:translate(0.30px,0.09px) rotate(0.03deg);">Bone marrow involved</div>
<div class="a sb c" style="left:328px;top:229px;font-size:5.65px;line-height:7px;width:65.00px;transform:translate(0.50px,0.09px) rotate(0.03deg);">70 (61.9)</div>
<div class="a sb c" style="left:393px;top:229px;font-size:5.65px;line-height:7px;width:65.50px;transform:translate(0.50px,0.09px) rotate(0.03deg);">48, (54.5)</div>
<div class="a sb c" style="left:459px;top:229px;font-size:5.65px;line-height:7px;width:44.00px;transform:translate(0.00px,0.09px) rotate(0.03deg);">0.0035</div>
<div class="a sb" style="left:258px;top:237px;font-size:5.65px;line-height:7px;transform:translate(0.30px,0.09px) rotate(0.03deg);">Extranodal &gt; 1 site</div>
<div class="a sb c" style="left:328px;top:237px;font-size:5.65px;line-height:7px;width:65.00px;transform:translate(0.50px,0.09px) rotate(0.03deg);">45, (39.8)</div>
<div class="a sb c" style="left:393px;top:237px;font-size:5.65px;line-height:7px;width:65.50px;transform:translate(0.50px,0.09px) rotate(0.03deg);">27, (30.7)</div>
<div class="a sb c" style="left:459px;top:237px;font-size:5.65px;line-height:7px;width:44.00px;transform:translate(0.00px,0.09px) rotate(0.03deg);">0.1817</div>
<div class="a sb" style="left:258px;top:248px;font-size:5.65px;line-height:7px;transform:translate(0.30px,0.49px) rotate(0.03deg);">LDH (unit/L)</div>
<div class="a sb c" style="left:328px;top:248px;font-size:5.65px;line-height:7px;width:65.00px;transform:translate(0.50px,0.49px) rotate(0.03deg);">209.6, [94-723]</div>
<div class="a sb c" style="left:393px;top:248px;font-size:5.65px;line-height:7px;width:65.50px;transform:translate(0.50px,0.49px) rotate(0.03deg);">226.1, [95-742]</div>
<div class="a sb c" style="left:459px;top:248px;font-size:5.65px;line-height:7px;width:44.00px;transform:translate(0.00px,0.49px) rotate(0.03deg);">0.2560</div>
<div class="a sb" style="left:258px;top:259px;font-size:5.65px;line-height:7px;transform:translate(0.30px,0.69px) rotate(0.03deg);"><span style="word-spacing:7.2px">Mean hemoglobin, g/L,</span></div>
<div class="a sb" style="left:258px;top:266px;font-size:5.65px;line-height:7px;transform:translate(0.30px,0.19px) rotate(0.03deg);">mean [range],</div>
<div class="a sb c" style="left:328px;top:262px;font-size:5.65px;line-height:7px;width:65.00px;transform:translate(0.50px,0.89px) rotate(0.03deg);">115.5, [70-168]</div>
<div class="a sb c" style="left:393px;top:262px;font-size:5.65px;line-height:7px;width:65.50px;transform:translate(0.50px,0.89px) rotate(0.03deg);">122.5, [69-172]</div>
<div class="a sb c" style="left:459px;top:262px;font-size:5.65px;line-height:7px;width:44.00px;transform:translate(0.00px,0.89px) rotate(0.03deg);">0.0455</div>
<div class="a sb" style="left:258px;top:275px;font-size:5.65px;line-height:7px;transform:translate(0.30px,0.69px) rotate(0.03deg);"><span style="word-spacing:2.3px">Indication for B+R, N of</span></div>
<div class="a sb" style="left:258px;top:281px;font-size:5.65px;line-height:7px;transform:translate(0.30px,0.89px) rotate(0.03deg);">individual indications, (%)</div>
<div class="a sb" style="left:275px;top:288px;font-size:5.65px;line-height:7px;transform:translate(0.80px,0.39px) rotate(0.03deg);">Bulky lymph nodes</div>
<div class="a sb" style="left:275px;top:294px;font-size:5.65px;line-height:7px;transform:translate(0.80px,0.89px) rotate(0.03deg);">Cytopenia</div>
<div class="a sb" style="left:275px;top:301px;font-size:5.65px;line-height:7px;transform:translate(0.80px,0.39px) rotate(0.03deg);">Constitutional Sx</div>
<div class="a sb" style="left:275px;top:307px;font-size:5.65px;line-height:7px;transform:translate(0.80px,0.89px) rotate(0.03deg);">Splenomegaly</div>
<div class="a sb" style="left:275px;top:314px;font-size:5.65px;line-height:7px;transform:translate(0.80px,0.39px) rotate(0.03deg);">Other</div>
<div class="a sb c" style="left:328px;top:275px;font-size:5.65px;line-height:7px;width:65.00px;transform:translate(0.50px,0.69px) rotate(0.03deg);">Total: 204</div>
<div class="a sb c" style="left:328px;top:288px;font-size:5.65px;line-height:7px;width:65.00px;transform:translate(0.50px,0.39px) rotate(0.03deg);">78, (38.3)</div>
<div class="a sb c" style="left:328px;top:294px;font-size:5.65px;line-height:7px;width:65.00px;transform:translate(0.50px,0.89px) rotate(0.03deg);">46, (22.5)</div>
<div class="a sb c" style="left:328px;top:301px;font-size:5.65px;line-height:7px;width:65.00px;transform:translate(0.50px,0.39px) rotate(0.03deg);">38, (18.6)</div>
<div class="a sb c" style="left:328px;top:307px;font-size:5.65px;line-height:7px;width:65.00px;transform:translate(0.50px,0.89px) rotate(0.03deg);">22, (10.8)</div>
<div class="a sb c" style="left:328px;top:314px;font-size:5.65px;line-height:7px;width:65.00px;transform:translate(0.50px,0.39px) rotate(0.03deg);">20, (12.2)</div>
<div class="a sb c" style="left:393px;top:275px;font-size:5.65px;line-height:7px;width:65.50px;transform:translate(0.50px,0.69px) rotate(0.03deg);">Total: 157</div>
<div class="a sb c" style="left:393px;top:288px;font-size:5.65px;line-height:7px;width:65.50px;transform:translate(0.50px,0.39px) rotate(0.03deg);">61, (38.8)</div>
<div class="a sb c" style="left:393px;top:294px;font-size:5.65px;line-height:7px;width:65.50px;transform:translate(0.50px,0.89px) rotate(0.03deg);">28, (17.8)</div>
<div class="a sb c" style="left:393px;top:301px;font-size:5.65px;line-height:7px;width:65.50px;transform:translate(0.50px,0.39px) rotate(0.03deg);">36, (22.9)</div>
<div class="a sb c" style="left:393px;top:307px;font-size:5.65px;line-height:7px;width:65.50px;transform:translate(0.50px,0.89px) rotate(0.03deg);">13, (8.3)</div>
<div class="a sb c" style="left:393px;top:314px;font-size:5.65px;line-height:7px;width:65.50px;transform:translate(0.50px,0.39px) rotate(0.03deg);">19, (12.1)</div>
<div class="a sb c" style="left:459px;top:288px;font-size:5.65px;line-height:7px;width:44.00px;transform:translate(0.00px,0.39px) rotate(0.03deg);">0.9648</div>
<div class="a sb c" style="left:459px;top:294px;font-size:5.65px;line-height:7px;width:44.00px;transform:translate(0.00px,0.89px) rotate(0.03deg);">0.1967</div>
<div class="a sb c" style="left:459px;top:301px;font-size:5.65px;line-height:7px;width:44.00px;transform:translate(0.00px,0.39px) rotate(0.03deg);">0.2907</div>
<div class="a sb c" style="left:459px;top:307px;font-size:5.65px;line-height:7px;width:44.00px;transform:translate(0.00px,0.89px) rotate(0.03deg);">0.5862</div>
<div class="a sb c" style="left:459px;top:314px;font-size:5.65px;line-height:7px;width:44.00px;transform:translate(0.00px,0.39px) rotate(0.03deg);">0.4913</div>
<div class="a sb" style="left:263px;top:323px;font-size:4.2px;line-height:5px;transform:translate(0.50px,0.38px) rotate(0.03deg);">Abbreviation: FL, Follicular Lymphoma; MZL, Marginal Zone Lymphoma; LPL, Lymphoplasmacytic Lymphoma; MCL,</div>
<div class="a sb" style="left:263px;top:328px;font-size:4.2px;line-height:5px;transform:translate(0.50px,0.18px) rotate(0.03deg);">Mantle Cell Lymphoma; iNHL, indolent Non-Hodgkin's lymphoma, LDH, Lactate dehydrogenase; Hb, Hemoglobin; ECOG,</div>
<div class="a sb" style="left:263px;top:333px;font-size:4.2px;line-height:5px;transform:translate(0.50px,0.08px) rotate(0.03deg);">Eastern Cooperative Oncology Group; FLIPI, Follicular Lymphoma International Prognostic Index, ISSWM, International</div>
<div class="a sb" style="left:263px;top:337px;font-size:4.2px;line-height:5px;transform:translate(0.50px,0.88px) rotate(0.03deg);">Prognostic Scoring System for Waldenstrom Macroglobulinemia; MIPI, Mantle Cell Lymphoma International Prognostic Index;</div>
<div class="a sb" style="left:263px;top:342px;font-size:4.2px;line-height:5px;transform:translate(0.50px,0.88px) rotate(0.03deg);">LDH, Lactate dehydrogenase</div>
<div class="a sb" style="left:263px;top:351px;font-size:4.2px;line-height:5px;transform:translate(0.50px,0.58px) rotate(0.03deg);"><span style="font-size:3px;position:relative;top:-1.3px;line-height:0">1</span> High risk defined as FLIPI score ≥3 for follicular lymphoma, WMISS score ≥2 for LPL, MIPI score ≥6.2 for MCL.</div>
<div class="a sb" style="left:345px;top:381px;font-size:8.5px;line-height:10px;transform-origin:left center;transform:translate(0.80px,0.30px) rotate(0.03deg) scaleX(0.805);">Table 2 Adverse Events</div>
<div class="a sb" style="left:257px;top:397px;font-size:5.8px;line-height:7px;transform-origin:left center;transform:translate(0.70px,0.58px) rotate(0.03deg) scaleX(0.975);">Number of patients, (%)</div>
<div class="a sb c" style="left:341px;top:397px;font-size:5.8px;line-height:7px;width:64.70px;transform-origin:center center;transform:translate(0.80px,0.58px) rotate(0.03deg) scaleX(0.975);">Elderly (&gt;70 yo), n=113</div>
<div class="a sb c" style="left:406px;top:397px;font-size:5.8px;line-height:7px;width:67.00px;transform-origin:center center;transform:translate(0.50px,0.58px) rotate(0.03deg) scaleX(0.975);">Younger (≤70 yo), n=88</div>
<div class="a sb c" style="left:473px;top:397px;font-size:5.8px;line-height:7px;width:32.00px;transform-origin:center center;transform:translate(0.50px,0.58px) rotate(0.03deg) scaleX(0.975);"><i>P</i> value</div>
<div class="a sb" style="left:257px;top:411px;font-size:5.8px;line-height:7px;transform-origin:left center;transform:translate(0.70px,0.88px) rotate(0.03deg) scaleX(0.975);">Total N per patient</div>
<div class="a sb" style="left:274px;top:419px;font-size:5.8px;line-height:7px;transform-origin:left center;transform:translate(0.90px,0.88px) rotate(0.03deg) scaleX(0.975);">Cycle 1</div>
<div class="a sb" style="left:274px;top:427px;font-size:5.8px;line-height:7px;transform-origin:left center;transform:translate(0.90px,0.88px) rotate(0.03deg) scaleX(0.975);">Cycle 2</div>
<div class="a sb" style="left:274px;top:436px;font-size:5.8px;line-height:7px;transform-origin:left center;transform:translate(0.90px,0.08px) rotate(0.03deg) scaleX(0.975);">Cycle 3</div>
<div class="a sb" style="left:274px;top:444px;font-size:5.8px;line-height:7px;transform-origin:left center;transform:translate(0.90px,0.08px) rotate(0.03deg) scaleX(0.975);">Cycle 4</div>
<div class="a sb" style="left:274px;top:452px;font-size:5.8px;line-height:7px;transform-origin:left center;transform:translate(0.90px,0.08px) rotate(0.03deg) scaleX(0.975);">Cycle 5</div>
<div class="a sb" style="left:274px;top:460px;font-size:5.8px;line-height:7px;transform-origin:left center;transform:translate(0.90px,0.08px) rotate(0.03deg) scaleX(0.975);">Cycle 6</div>
<div class="a sb c" style="left:341px;top:419px;font-size:5.8px;line-height:7px;width:64.70px;transform-origin:center center;transform:translate(0.80px,0.88px) rotate(0.03deg) scaleX(0.975);">1.28</div>
<div class="a sb c" style="left:341px;top:427px;font-size:5.8px;line-height:7px;width:64.70px;transform-origin:center center;transform:translate(0.80px,0.88px) rotate(0.03deg) scaleX(0.975);">1.01</div>
<div class="a sb c" style="left:341px;top:436px;font-size:5.8px;line-height:7px;width:64.70px;transform-origin:center center;transform:translate(0.80px,0.08px) rotate(0.03deg) scaleX(0.975);">0.99</div>
<div class="a sb c" style="left:341px;top:444px;font-size:5.8px;line-height:7px;width:64.70px;transform-origin:center center;transform:translate(0.80px,0.08px) rotate(0.03deg) scaleX(0.975);">0.83</div>
<div class="a sb c" style="left:341px;top:452px;font-size:5.8px;line-height:7px;width:64.70px;transform-origin:center center;transform:translate(0.80px,0.08px) rotate(0.03deg) scaleX(0.975);">0.62</div>
<div class="a sb c" style="left:341px;top:460px;font-size:5.8px;line-height:7px;width:64.70px;transform-origin:center center;transform:translate(0.80px,0.08px) rotate(0.03deg) scaleX(0.975);">0.55</div>
<div class="a sb c" style="left:406px;top:419px;font-size:5.8px;line-height:7px;width:67.00px;transform-origin:center center;transform:translate(0.50px,0.88px) rotate(0.03deg) scaleX(0.975);">1.45</div>
<div class="a sb c" style="left:406px;top:427px;font-size:5.8px;line-height:7px;width:67.00px;transform-origin:center center;transform:translate(0.50px,0.88px) rotate(0.03deg) scaleX(0.975);">1.01</div>
<div class="a sb c" style="left:406px;top:436px;font-size:5.8px;line-height:7px;width:67.00px;transform-origin:center center;transform:translate(0.50px,0.08px) rotate(0.03deg) scaleX(0.975);">0.84</div>
<div class="a sb c" style="left:406px;top:444px;font-size:5.8px;line-height:7px;width:67.00px;transform-origin:center center;transform:translate(0.50px,0.08px) rotate(0.03deg) scaleX(0.975);">0.70</div>
<div class="a sb c" style="left:406px;top:452px;font-size:5.8px;line-height:7px;width:67.00px;transform-origin:center center;transform:translate(0.50px,0.08px) rotate(0.03deg) scaleX(0.975);">0.61</div>
<div class="a sb c" style="left:406px;top:460px;font-size:5.8px;line-height:7px;width:67.00px;transform-origin:center center;transform:translate(0.50px,0.08px) rotate(0.03deg) scaleX(0.975);">0.36</div>
<div class="a sb" style="left:257px;top:469px;font-size:5.8px;line-height:7px;transform-origin:left center;transform:translate(0.70px,0.68px) rotate(0.03deg) scaleX(0.975);">Rituximab-associated infusion</div>
<div class="a sb" style="left:257px;top:477px;font-size:5.8px;line-height:7px;transform-origin:left center;transform:translate(0.70px,0.38px) rotate(0.03deg) scaleX(0.975);">reaction (Cycle 1 only)</div>
<div class="a sb c" style="left:341px;top:473px;font-size:5.8px;line-height:7px;width:64.70px;transform-origin:center center;transform:translate(0.80px,0.68px) rotate(0.03deg) scaleX(0.975);">44 (38.9%)</div>
<div class="a sb c" style="left:406px;top:473px;font-size:5.8px;line-height:7px;width:67.00px;transform-origin:center center;transform:translate(0.50px,0.68px) rotate(0.03deg) scaleX(0.975);">48 (54.5%)</div>
<div class="a sb c" style="left:473px;top:473px;font-size:5.8px;line-height:7px;width:32.00px;transform-origin:center center;transform:translate(0.50px,0.68px) rotate(0.03deg) scaleX(0.975);">0.0276*</div>
<div class="a sb" style="left:257px;top:486px;font-size:5.8px;line-height:7px;transform-origin:left center;transform:translate(0.70px,0.88px) rotate(0.03deg) scaleX(0.975);">Fever</div>
<div class="a sb c" style="left:341px;top:486px;font-size:5.8px;line-height:7px;width:64.70px;transform-origin:center center;transform:translate(0.80px,0.88px) rotate(0.03deg) scaleX(0.975);">11 (9.7%)</div>
<div class="a sb c" style="left:406px;top:486px;font-size:5.8px;line-height:7px;width:67.00px;transform-origin:center center;transform:translate(0.50px,0.88px) rotate(0.03deg) scaleX(0.975);">15 (17.0%)</div>
<div class="a sb c" style="left:473px;top:486px;font-size:5.8px;line-height:7px;width:32.00px;transform-origin:center center;transform:translate(0.50px,0.88px) rotate(0.03deg) scaleX(0.975);">0.1267</div>
<div class="a sb" style="left:257px;top:496px;font-size:5.8px;line-height:7px;transform-origin:left center;transform:translate(0.70px,0.08px) rotate(0.03deg) scaleX(0.975);">Fatigue</div>
<div class="a sb c" style="left:341px;top:496px;font-size:5.8px;line-height:7px;width:64.70px;transform-origin:center center;transform:translate(0.80px,0.08px) rotate(0.03deg) scaleX(0.975);">50, (44.2%)</div>
<div class="a sb c" style="left:406px;top:496px;font-size:5.8px;line-height:7px;width:67.00px;transform-origin:center center;transform:translate(0.50px,0.08px) rotate(0.03deg) scaleX(0.975);">33 (37.5%)</div>
<div class="a sb c" style="left:473px;top:496px;font-size:5.8px;line-height:7px;width:32.00px;transform-origin:center center;transform:translate(0.50px,0.08px) rotate(0.03deg) scaleX(0.975);">0.3375</div>
<div class="a sb" style="left:257px;top:505px;font-size:5.8px;line-height:7px;transform-origin:left center;transform:translate(0.70px,0.28px) rotate(0.03deg) scaleX(0.975);">Nausea</div>
<div class="a sb c" style="left:341px;top:505px;font-size:5.8px;line-height:7px;width:64.70px;transform-origin:center center;transform:translate(0.80px,0.28px) rotate(0.03deg) scaleX(0.975);">30 (26.5%)</div>
<div class="a sb c" style="left:406px;top:505px;font-size:5.8px;line-height:7px;width:67.00px;transform-origin:center center;transform:translate(0.50px,0.28px) rotate(0.03deg) scaleX(0.975);">30 (34.1%)</div>
<div class="a sb c" style="left:473px;top:505px;font-size:5.8px;line-height:7px;width:32.00px;transform-origin:center center;transform:translate(0.50px,0.28px) rotate(0.03deg) scaleX(0.975);">0.2485</div>
<div class="a sb" style="left:257px;top:514px;font-size:5.8px;line-height:7px;transform-origin:left center;transform:translate(0.70px,0.48px) rotate(0.03deg) scaleX(0.975);">Infection</div>
<div class="a sb c" style="left:341px;top:514px;font-size:5.8px;line-height:7px;width:64.70px;transform-origin:center center;transform:translate(0.80px,0.48px) rotate(0.03deg) scaleX(0.975);">25 (22.1%)</div>
<div class="a sb c" style="left:406px;top:514px;font-size:5.8px;line-height:7px;width:67.00px;transform-origin:center center;transform:translate(0.50px,0.48px) rotate(0.03deg) scaleX(0.975);">24 (27.3%)</div>
<div class="a sb c" style="left:473px;top:514px;font-size:5.8px;line-height:7px;width:32.00px;transform-origin:center center;transform:translate(0.50px,0.48px) rotate(0.03deg) scaleX(0.975);">0.4015</div>
<div class="a sb" style="left:257px;top:523px;font-size:5.8px;line-height:7px;transform-origin:left center;transform:translate(0.70px,0.88px) rotate(0.03deg) scaleX(0.975);">Rash</div>
<div class="a sb c" style="left:341px;top:523px;font-size:5.8px;line-height:7px;width:64.70px;transform-origin:center center;transform:translate(0.80px,0.88px) rotate(0.03deg) scaleX(0.975);">25 (22.1%)</div>
<div class="a sb c" style="left:406px;top:523px;font-size:5.8px;line-height:7px;width:67.00px;transform-origin:center center;transform:translate(0.50px,0.88px) rotate(0.03deg) scaleX(0.975);">16 (18.2%)</div>
<div class="a sb c" style="left:473px;top:523px;font-size:5.8px;line-height:7px;width:32.00px;transform-origin:center center;transform:translate(0.50px,0.88px) rotate(0.03deg) scaleX(0.975);">0.4938</div>
<div class="a sb" style="left:257px;top:533px;font-size:5.8px;line-height:7px;transform-origin:left center;transform:translate(0.70px,0.18px) rotate(0.03deg) scaleX(0.975);">Anemia (Grade 3&amp;4)</div>
<div class="a sb c" style="left:341px;top:533px;font-size:5.8px;line-height:7px;width:64.70px;transform-origin:center center;transform:translate(0.80px,0.18px) rotate(0.03deg) scaleX(0.975);">12 (10.6)</div>
<div class="a sb c" style="left:406px;top:533px;font-size:5.8px;line-height:7px;width:67.00px;transform-origin:center center;transform:translate(0.50px,0.18px) rotate(0.03deg) scaleX(0.975);">4 (4.5%)</div>
<div class="a sb c" style="left:473px;top:533px;font-size:5.8px;line-height:7px;width:32.00px;transform-origin:center center;transform:translate(0.50px,0.18px) rotate(0.03deg) scaleX(0.975);">0.1156</div>
<div class="a sb" style="left:257px;top:542px;font-size:5.8px;line-height:7px;transform-origin:left center;transform:translate(0.70px,0.48px) rotate(0.03deg) scaleX(0.975);">Neutropenia (Grade 3&amp;4)</div>
<div class="a sb c" style="left:341px;top:542px;font-size:5.8px;line-height:7px;width:64.70px;transform-origin:center center;transform:translate(0.80px,0.48px) rotate(0.03deg) scaleX(0.975);">24 (21.2%)</div>
<div class="a sb c" style="left:406px;top:542px;font-size:5.8px;line-height:7px;width:67.00px;transform-origin:center center;transform:translate(0.50px,0.48px) rotate(0.03deg) scaleX(0.975);">21 (23.9%)</div>
<div class="a sb c" style="left:473px;top:542px;font-size:5.8px;line-height:7px;width:32.00px;transform-origin:center center;transform:translate(0.50px,0.48px) rotate(0.03deg) scaleX(0.975);">0.6598</div>
<div class="a sb" style="left:257px;top:551px;font-size:5.8px;line-height:7px;transform-origin:left center;transform:translate(0.70px,0.68px) rotate(0.03deg) scaleX(0.975);">Thrombocytopenia (Grade 3&amp;4)</div>
<div class="a sb c" style="left:341px;top:551px;font-size:5.8px;line-height:7px;width:64.70px;transform-origin:center center;transform:translate(0.80px,0.68px) rotate(0.03deg) scaleX(0.975);">6 (5.3%)</div>
<div class="a sb c" style="left:406px;top:551px;font-size:5.8px;line-height:7px;width:67.00px;transform-origin:center center;transform:translate(0.50px,0.68px) rotate(0.03deg) scaleX(0.975);">0 (0%)</div>
<div class="a sb c" style="left:473px;top:551px;font-size:5.8px;line-height:7px;width:32.00px;transform-origin:center center;transform:translate(0.50px,0.68px) rotate(0.03deg) scaleX(0.975);">0.0282*</div>
<div class="a sb" style="left:257px;top:560px;font-size:5.8px;line-height:7px;transform-origin:left center;transform:translate(0.70px,0.88px) rotate(0.03deg) scaleX(0.975);">Febrile Neutropenia</div>
<div class="a sb c" style="left:341px;top:560px;font-size:5.8px;line-height:7px;width:64.70px;transform-origin:center center;transform:translate(0.80px,0.88px) rotate(0.03deg) scaleX(0.975);">3 (2.7%)</div>
<div class="a sb c" style="left:406px;top:560px;font-size:5.8px;line-height:7px;width:67.00px;transform-origin:center center;transform:translate(0.50px,0.88px) rotate(0.03deg) scaleX(0.975);">13 (14.8%)</div>
<div class="a sb c" style="left:473px;top:560px;font-size:5.8px;line-height:7px;width:32.00px;transform-origin:center center;transform:translate(0.50px,0.88px) rotate(0.03deg) scaleX(0.975);">0.0015*</div>
<div class="a sb" style="left:258px;top:577px;font-size:5.2px;line-height:6px;transform:translate(0.00px,0.27px) rotate(0.03deg);">* Statistically significant</div>
</body></html>
